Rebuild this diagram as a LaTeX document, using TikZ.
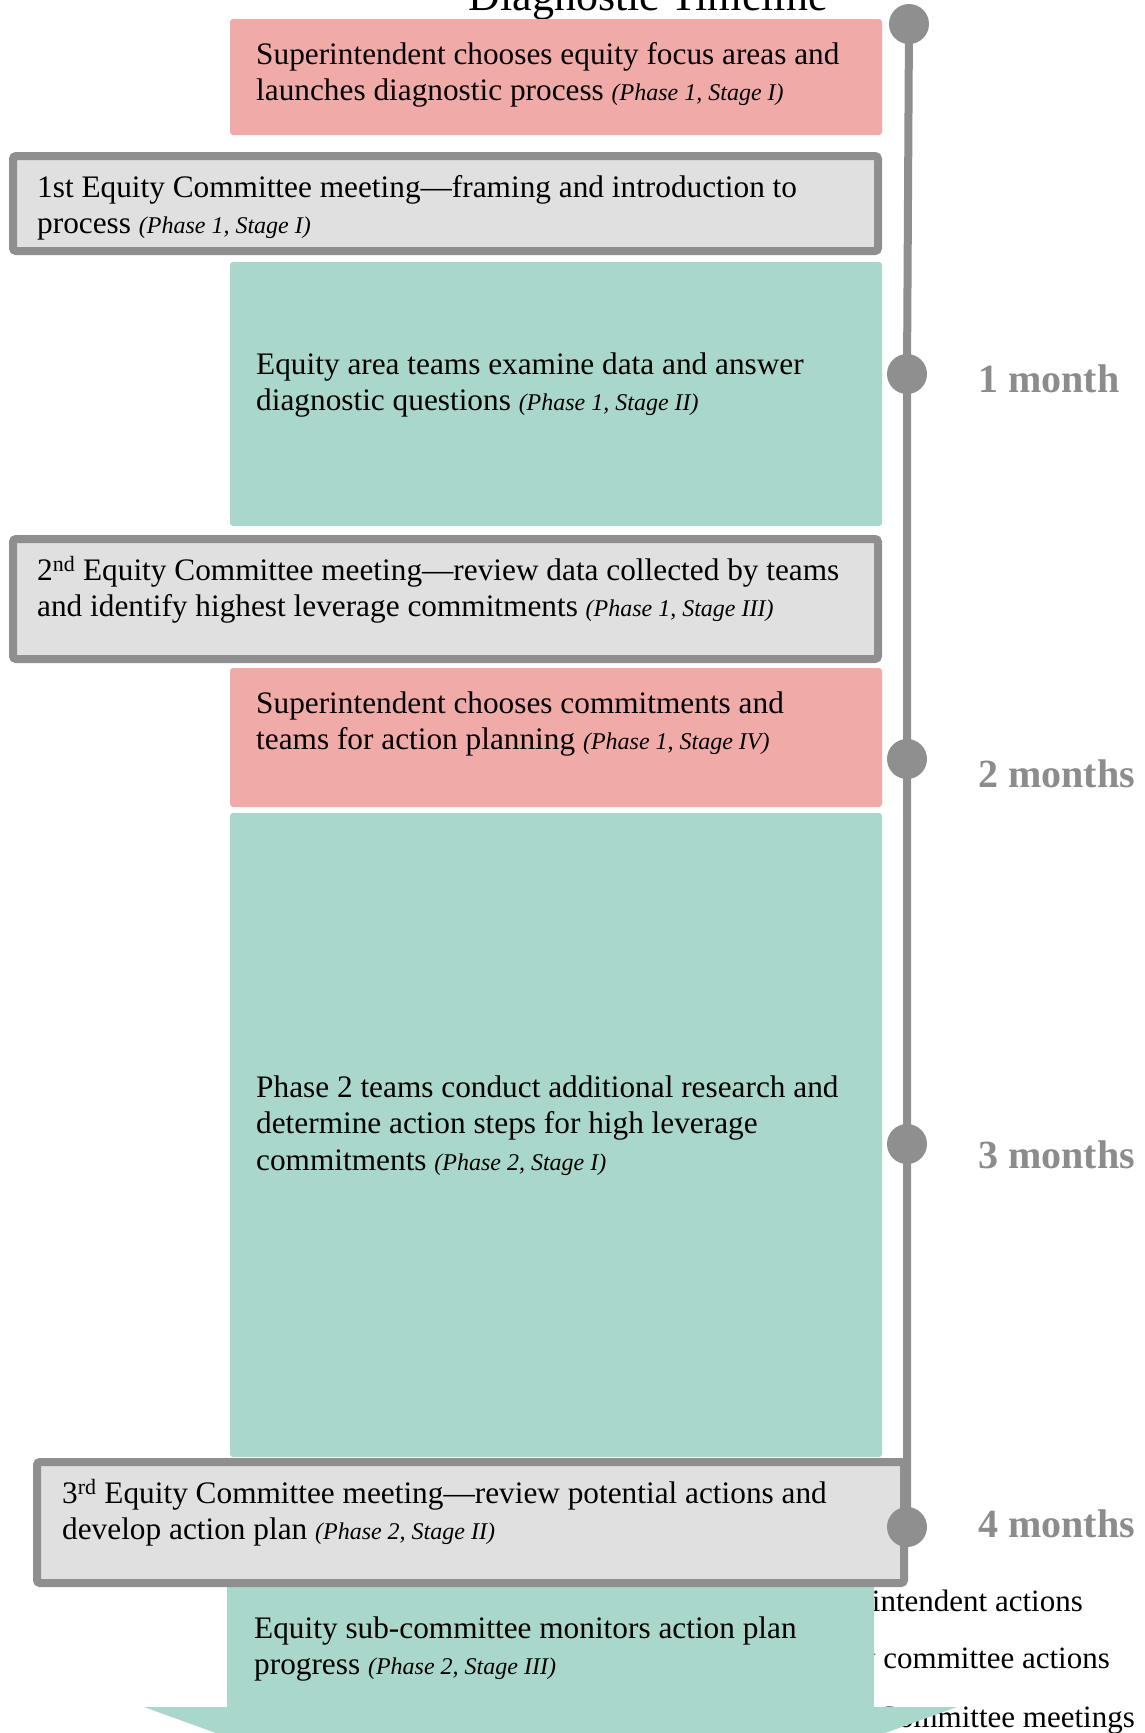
\documentclass[tikz,border=0pt]{standalone}
\usepackage{fontspec}
\setmainfont{Liberation Serif}
\usepackage{xcolor}
\usepackage{tikz}
\definecolor{suppink}{HTML}{F0ABA8}
\definecolor{teamteal}{HTML}{A9D7CC}
\definecolor{meetfill}{HTML}{E0E0E0}
\definecolor{meetline}{HTML}{8F8F8F}
\definecolor{monthgray}{HTML}{8C8C8C}
\newcommand{\stg}[1]{{\fontsize{24}{28}\selectfont\itshape (#1)}}
\tikzset{
  boxtext/.style={anchor=north west, inner sep=0pt, align=left, font=\fontsize{31.3}{36.5}\selectfont},
  legtext/.style={anchor=base east, inner sep=0pt, font=\fontsize{31}{36.5}\selectfont},
  meetbox/.style={fill=meetfill, draw=meetline, line width=8pt, rounded corners=3pt},
  tickdot/.style={circle, fill=meetline, minimum size=40pt, inner sep=0pt},
  monthlbl/.style={anchor=base west, inner sep=0pt, text=monthgray, font=\fontsize{40}{44}\selectfont\bfseries},
}

\begin{document}
\begin{tikzpicture}[x=1pt, y=-1pt]
  \useasboundingbox (0,0) rectangle (1144,1733);
  \node[anchor=base, inner sep=0pt, font=\fontsize{44}{48}\selectfont] (title) at (648,10) {Diagnostic Timeline};
  \node[legtext] (legsup) at (1083,1611) {Superintendent actions};
  \node[legtext] (legteam) at (1110,1668) {Equity committee actions};
  \node[legtext] (legmeet) at (1135,1727) {Equity Committee meetings};

  \fill[suppink, rounded corners=3pt] (230,19) rectangle (882,135);
  \draw[meetbox] (13,156) rectangle (878,251);
  \fill[teamteal, rounded corners=3pt] (230,262) rectangle (882,526);
  \draw[meetbox] (13,539) rectangle (878,659);
  \fill[suppink, rounded corners=3pt] (230,668) rectangle (882,807);
  \fill[teamteal, rounded corners=3pt] (230,813) rectangle (882,1457);
  \fill[teamteal] (227,1585) -- (874,1585) -- (874,1707) -- (957,1707) -- (550.5,1854) -- (144,1707) -- (227,1707) -- cycle;
  \draw[meetbox] (37,1462) rectangle (904,1583);

  \node[boxtext] (launch) at (256,38.5) {\strut Superintendent chooses equity focus areas and\\launches diagnostic process \stg{Phase 1, Stage I}};
  \node[boxtext] (meet1) at (37,171.5) {\strut 1st Equity Committee meeting—framing and introduction to\\process \stg{Phase 1, Stage I}};
  \node[boxtext] (examine) at (256,348.5) {\strut Equity area teams examine data and answer\\diagnostic questions \stg{Phase 1, Stage II}};
  \node[boxtext] (meet2) at (37,554.5) {\strut 2\textsuperscript{nd} Equity Committee meeting—review data collected by teams\\and identify highest leverage commitments \stg{Phase 1, Stage III}};
  \node[boxtext] (choose) at (256,687.5) {\strut Superintendent chooses commitments and\\teams for action planning \stg{Phase 1, Stage IV}};
  \node[boxtext] (research) at (256,1071.5) {\strut Phase 2 teams conduct additional research and\\determine action steps for high leverage\\commitments \stg{Phase 2, Stage I}};
  \node[boxtext] (meet3) at (62,1477.5) {\strut 3\textsuperscript{rd} Equity Committee meeting—review potential actions and\\develop action plan \stg{Phase 2, Stage II}};
  \node[boxtext] (monitor) at (254,1612.5) {\strut Equity sub-committee monitors action plan\\progress \stg{Phase 2, Stage III}};

  \foreach \n/\x/\y in {t0/909/24, t1/907/374, t2/907/759, t3/907/1144, t4/907/1527}
    \node[tickdot] (\n) at (\x,\y) {};
  \draw[meetline, line width=8pt] (t0.center) -- (t1.center) -- (t4.center);
  \foreach \n/\y/\lbl in {m1/392/1 month, m2/787/2 months, m3/1168/3 months, m4/1537/4 months}
    \node[monthlbl] (\n) at (978,\y) {\lbl};
\end{tikzpicture}
\end{document}
